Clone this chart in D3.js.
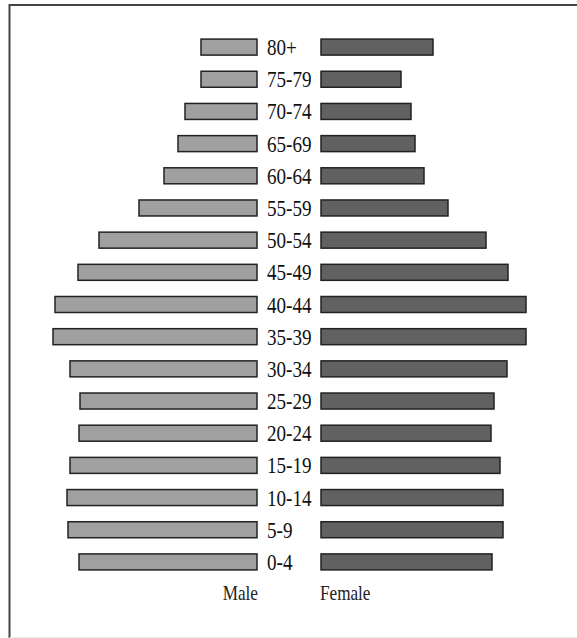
<!DOCTYPE html>
<html><head><meta charset="utf-8">
<script src="https://cdn.jsdelivr.net/npm/d3@7"></script>
<style>html,body{margin:0;padding:0;background:#fff;}svg{display:block;}</style>
</head><body>
<svg id="chart" width="577" height="638"></svg>
<script>
const ageGroups = ["80+","75-79","70-74","65-69","60-64","55-59","50-54","45-49","40-44","35-39","30-34","25-29","20-24","15-19","10-14","5-9","0-4"];
const maleValues = [56,56,72,79,93,118,158,179,202,204,187,177,178,187,190,189,178];
const femaleValues = [112,80,90,94,103,127,165,187,205,205,186,173,170,179,182,182,171];
const sideLabels = ["Male","Female"];

const svg = d3.select("#chart");
// frame
svg.append("line").attr("x1",9.5).attr("x2",577).attr("y1",5).attr("y2",5).attr("stroke","#444").attr("stroke-width",2);
svg.append("line").attr("x1",9.5).attr("x2",9.5).attr("y1",4).attr("y2",638).attr("stroke","#444").attr("stroke-width",2);
svg.append("line").attr("x1",9.5).attr("x2",577).attr("y1",637.5).attr("y2",637.5).attr("stroke","#eee").attr("stroke-width",1);

const y = d3.scaleBand().domain(ageGroups).range([31, 578]).paddingInner(0.5).paddingOuter(0.25);
const maxV = 210;
const xMale = d3.scaleLinear().domain([0, maxV]).range([257, 47]);
const xFemale = d3.scaleLinear().domain([0, maxV]).range([321, 531]);

const rows = ageGroups.map((g,i)=>({g, m:maleValues[i], f:femaleValues[i]}));
const bh = 16;
svg.selectAll("rect.m").data(rows).enter().append("rect").attr("class","m")
  .attr("x", d=>xMale(d.m)).attr("width", d=>xMale(0)-xMale(d.m))
  .attr("y", d=>y(d.g)+y.bandwidth()/2-bh/2).attr("height", bh)
  .attr("fill","#a0a0a0").attr("stroke","#222").attr("stroke-width",1.5);
svg.selectAll("rect.f").data(rows).enter().append("rect").attr("class","f")
  .attr("x", xFemale(0)).attr("width", d=>xFemale(d.f)-xFemale(0))
  .attr("y", d=>y(d.g)+y.bandwidth()/2-bh/2).attr("height", bh)
  .attr("fill","#616161").attr("stroke","#222").attr("stroke-width",1.5);

svg.selectAll("text.age").data(rows).enter().append("text").attr("class","age")
  .attr("transform", d=>`translate(267,${y(d.g)+y.bandwidth()/2+8}) scale(0.83,1)`)
  .attr("font-family","Liberation Serif, serif").attr("font-size",23).attr("fill","#111")
  .text(d=>d.g);

svg.append("text").attr("transform","translate(258,600) scale(0.78,1)").attr("text-anchor","end")
  .attr("font-family","Liberation Serif, serif").attr("font-size",22).attr("fill","#222").text(sideLabels[0]);
svg.append("text").attr("transform","translate(320,600) scale(0.78,1)")
  .attr("font-family","Liberation Serif, serif").attr("font-size",22).attr("fill","#222").text(sideLabels[1]);
</script>
</body></html>
